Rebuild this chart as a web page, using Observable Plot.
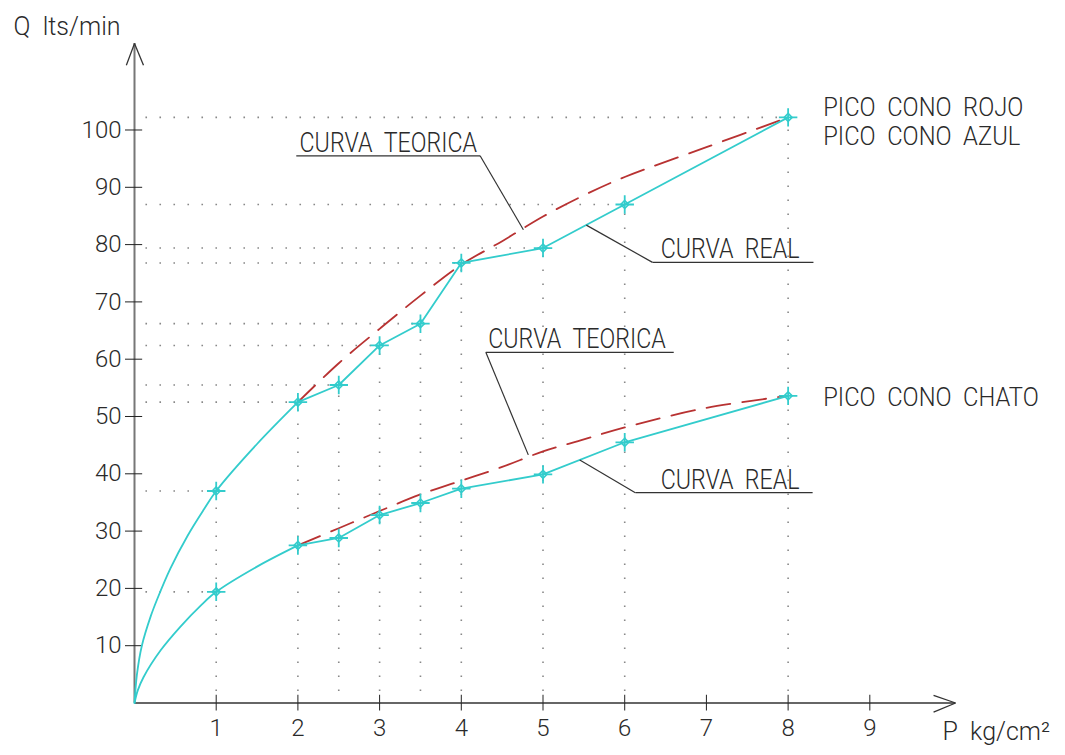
<!DOCTYPE html>
<html>
<head>
<meta charset="utf-8">
<script src="https://cdn.jsdelivr.net/npm/d3@7"></script>
<script src="https://cdn.jsdelivr.net/npm/@observablehq/plot@0.6"></script>
<style>
  html, body { margin: 0; padding: 0; background: #fff; }
  #chart svg { display: block; }
</style>
</head>
<body>
<div id="chart"></div>
<script>
// ---- data ----
// measured points (P kg/cm², Q lts/min)
const presion = [1, 2, 2.5, 3, 3.5, 4, 5, 6, 8];
const caudalRojoAzul = [37, 52.5, 55.5, 62.4, 66.2, 76.8, 79.4, 87, 102.2];
const caudalChato = [19.4, 27.5, 28.8, 32.8, 34.9, 37.4, 39.9, 45.5, 53.6];

// traced start of the real curves (origin to second point)
const inicioRojoAzulP = [0, 0.03, 0.09, 0.2, 0.28, 0.44, 0.65, 0.85, 1, 1.5, 2];
const inicioRojoAzulQ = [0, 5, 10, 15.2, 18.2, 23.5, 29.2, 33.8, 37, 45.2, 52.5];
const inicioChatoP = [0, 0.04, 0.11, 0.32, 0.56, 0.81, 1, 1.5, 2];
const inicioChatoQ = [0, 2.2, 4.5, 9.2, 13.3, 17.0, 19.4, 23.8, 27.5];

// theoretical curves (dashed)
const teoP = [2, 2.5, 3, 3.5, 4, 4.5, 5, 5.5, 6, 7, 8];
const teoRojoAzul = [52.5, 59.3, 65.3, 71.1, 76.5, 80.6, 84.9, 88.6, 91.8, 97, 102.2];
const teoChato = [27.5, 30.5, 33.5, 36.4, 38.8, 41.2, 43.9, 46, 48.1, 51.5, 53.6];

// ticks
const xTicks = [1, 2, 3, 4, 5, 6, 7, 8, 9];
const yTicks = [10, 20, 30, 40, 50, 60, 70, 80, 90, 100];

// annotations (data units)
const etiquetas = ["CURVA TEORICA", "CURVA REAL", "CURVA TEORICA", "CURVA REAL"];
const etiquetaP = [2.02, 6.44, 4.33, 6.44];
const etiquetaQ = [96.1, 77.6, 61.9, 37.4];
const subrayadoP1 = [1.98, 6.34, 4.30, 6.13];
const subrayadoP2 = [4.23, 8.31, 6.60, 8.30];
const subrayadoQ = [95.5, 76.9, 61.2, 36.7];
const guiaP = [4.23, 6.34, 4.30, 6.13];
const guiaQ = [95.5, 76.9, 61.2, 36.7];
const guiaFinP = [4.76, 5.53, 4.82, 5.45];
const guiaFinQ = [82.6, 83.4, 43.3, 42.4];

const picos = ["PICO CONO ROJO", "PICO CONO AZUL", "PICO CONO CHATO"];
const picoP = [8.43, 8.43, 8.43];
const picoQ = [102.5, 97.3, 51.9];

const tituloY = "Q lts/min";
const tituloX = "P kg/cm²";

// ---- build tables ----
const zip = (xs, ys) => xs.map((x, i) => ({x, y: ys[i]}));
const ptsRA = zip(presion, caudalRojoAzul);
const ptsCh = zip(presion, caudalChato);
const iniRA = zip(inicioRojoAzulP, inicioRojoAzulQ);
const iniCh = zip(inicioChatoP, inicioChatoQ);
const restoRA = ptsRA.filter(d => d.x >= 2);
const restoCh = ptsCh.filter(d => d.x >= 2);
const teoRA = zip(teoP, teoRojoAzul);
const teoCh = zip(teoP, teoChato);

// dotted guides
const horiz = [...ptsRA, ptsCh[0]];
const vert = ptsRA;

const ancho = s => s.replace(/ /g, "\u00a0\u00a0");
const anot = etiquetas.map((t, i) => ({
  t: ancho(t), x: etiquetaP[i], y: etiquetaQ[i],
  u1: subrayadoP1[i], u2: subrayadoP2[i], uy: subrayadoQ[i],
  g1x: guiaP[i], g1y: guiaQ[i], g2x: guiaFinP[i], g2y: guiaFinQ[i]
}));
const picoData = picos.map((t, i) => ({t: ancho(t), x: picoP[i], y: picoQ[i]}));

const FONT = "Roboto, 'DejaVu Sans Condensed', sans-serif";
const CYAN = "#33cccc";
const RED = "#b83232";
const TXT = "#2a2a2a";

const chart = Plot.plot({
  width: 1065,
  height: 755,
  marginLeft: 134,
  marginRight: 0,
  marginTop: 0,
  marginBottom: 52.5,
  x: {domain: [0, 11.395]},
  y: {domain: [0, 122.6]},
  style: {fontFamily: FONT, fontSize: "24px", fontWeight: 300, color: TXT, background: "#fff", overflow: "visible"},
  marks: [
    // dotted guides
    Plot.ruleY(horiz, {y: "y", x1: 0.14, x2: "x", stroke: "#888", strokeWidth: 1.6, strokeDasharray: "1.6,12.4"}),
    Plot.ruleX(vert, {x: "x", y1: 2, y2: "y", stroke: "#888", strokeWidth: 1.6, strokeDasharray: "1.6,12.4"}),
    // axes lines
    Plot.ruleX([0], {y1: 0, y2: 115.1, stroke: "#777", strokeWidth: 2}),
    Plot.ruleY([0], {x1: 0, x2: 10.05, stroke: "#333", strokeWidth: 1.5}),
    // arrow heads
    Plot.link([{x1: -0.1, y1: 111.3, x2: 0, y2: 115.1}, {x1: 0.11, y1: 111.3, x2: 0, y2: 115.1}],
      {x1: "x1", y1: "y1", x2: "x2", y2: "y2", stroke: "#333", strokeWidth: 1.3}),
    Plot.link([{x1: 9.78, y1: 1.35, x2: 10.05, y2: 0}, {x1: 9.78, y1: -1.6, x2: 10.05, y2: 0}],
      {x1: "x1", y1: "y1", x2: "x2", y2: "y2", stroke: "#333", strokeWidth: 1.3}),
    // axes ticks and labels
    Plot.axisY({ticks: yTicks, tickSize: 9, tickPadding: 4, tickFormat: d => String(d), stroke: "#222", label: null}),
    Plot.ruleY(yTicks, {x1: 0, x2: 0.1, stroke: "#222"}),
    Plot.axisX({ticks: xTicks, tickSize: 8, tickPadding: 8, tickFormat: d => String(d), stroke: "#222", label: null}),
    Plot.ruleX(xTicks, {y1: 0, y2: 1.35, stroke: "#222"}),
    // theoretical curves
    Plot.line(teoRA, {x: "x", y: "y", curve: "catmull-rom", stroke: RED, strokeWidth: 1.8, strokeDasharray: "24,12"}),
    Plot.line(teoCh, {x: "x", y: "y", curve: "catmull-rom", stroke: RED, strokeWidth: 1.8, strokeDasharray: "24,12"}),
    // real curves
    Plot.line(iniRA, {x: "x", y: "y", curve: "catmull-rom", stroke: CYAN, strokeWidth: 1.8}),
    Plot.line(restoRA, {x: "x", y: "y", stroke: CYAN, strokeWidth: 1.8}),
    Plot.line(iniCh, {x: "x", y: "y", curve: "catmull-rom", stroke: CYAN, strokeWidth: 1.8}),
    Plot.line(restoCh, {x: "x", y: "y", stroke: CYAN, strokeWidth: 1.8}),
    // markers
    Plot.dot([...ptsRA, ...ptsCh], {x: "x", y: "y", symbol: "plus", r: 6, stroke: CYAN, strokeWidth: 1.8}),
    Plot.dot([...ptsRA, ...ptsCh], {x: "x", y: "y", symbol: "diamond2", r: 3.6, stroke: CYAN, strokeWidth: 1.6}),
    // annotations
    Plot.link(anot, {x1: "u1", x2: "u2", y1: "uy", y2: "uy", stroke: "#333", strokeWidth: 1.3}),
    Plot.link(anot, {x1: "g1x", y1: "g1y", x2: "g2x", y2: "g2y", stroke: "#333", strokeWidth: 1.2}),
    Plot.text(anot, {x: "x", y: "y", text: "t", textAnchor: "start", lineAnchor: "bottom", fontSize: 27, fill: TXT, ariaDescription: "cond-a"}),
    Plot.text(picoData, {x: "x", y: "y", text: "t", textAnchor: "start", lineAnchor: "bottom", fontSize: 25.5, fill: TXT, ariaDescription: "cond-b"}),
    // axis titles
    Plot.text([{x: -1.48, y: 116.5, t: ancho(tituloY)}], {x: "x", y: "y", text: "t", textAnchor: "start", lineAnchor: "bottom", fontSize: 25, fill: TXT}),
    Plot.text([{x: 9.89, y: -6.5, t: ancho(tituloX)}], {x: "x", y: "y", text: "t", textAnchor: "start", lineAnchor: "bottom", fontSize: 25, fill: TXT})
  ]
});
document.getElementById("chart").appendChild(chart);

// narrow lettering, like the CAD font of the original
const condensar = (sel, k) => d3.select(chart).selectAll(sel).each(function () {
  const w = this.getComputedTextLength();
  this.setAttribute("textLength", (w * k).toFixed(1));
  this.setAttribute("lengthAdjust", "spacingAndGlyphs");
});
condensar('g[aria-description="cond-a"] text', 0.86);
condensar('g[aria-description="cond-b"] text', 0.93);
</script>
</body>
</html>
